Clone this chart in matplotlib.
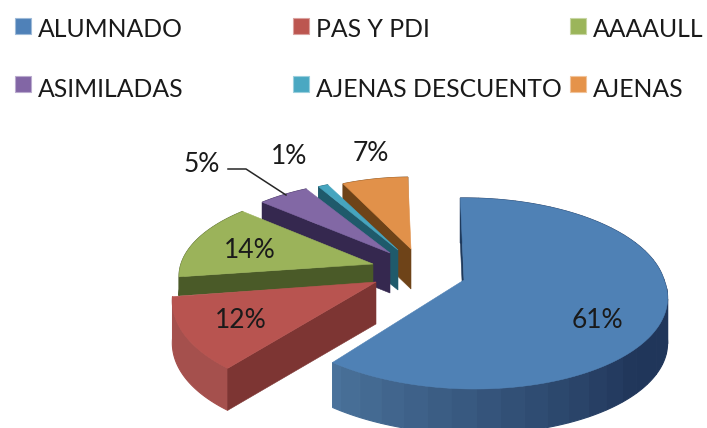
import numpy as np
import matplotlib
matplotlib.use('Agg')
import matplotlib.pyplot as plt
from matplotlib.patches import Polygon, Rectangle
from matplotlib.colors import to_rgb

# data
categories = ['ALUMNADO', 'PAS Y PDI', 'AAAAULL', 'ASIMILADAS', 'AJENAS DESCUENTO', 'AJENAS']
values = [61, 12, 14, 5, 1, 7]

# colours per slice
top_colors = ['#4f81b5', '#b85450', '#9bb35a', '#8268a5', '#46a5bf', '#e1914a']
face_colors = ['#1f3a5c', '#7d3533', '#4a5a28', '#35284f', '#1f5a6b', '#6e4318']
rim_colors = ['#20365a', '#a5504d', '#4a5a28', '#35284f', '#1f5a6b', '#6e4318']
legend_colors = ['#4f81b8', '#bc5650', '#9bb55a', '#8266a5', '#4aa8c2', '#e5934a']

# layout in pixels of the picture
apex = [(464, 280), (376, 282), (373, 264), (390, 253), (398, 250), (411, 249)]
radius_x = [200, 200, 192, 188, 178, 172]
radius_y = [93.6, 98, 86, 83, 82, 82]
near_shear = [0.1, -0.1, 0, 0, 0, 0]
depth = [45, 42, 19, 40, 40, 40]
label_pos = [(597, 320.5), (241, 320.5), (250, 251), (202, 164.5), (289, 156.5), (371, 153.5)]
legend_x = [14.5, 292.5, 569.5]
box_y = [26, 84]
text_y = [29, 89]
start_angle = -1.2
persp = 0.141

fig = plt.figure(figsize=(7.07, 4.28), dpi=100)
ax = fig.add_axes([0, 0, 1, 1])
ax.set_xlim(0, 707)
ax.set_ylim(428, 0)
ax.axis('off')
plt.rcParams['font.family'] = ['Lato', 'DejaVu Sans']


def project(i, t):
    # t in degrees, clockwise from the top of the pie
    t = np.radians(t)
    w = 1 + persp * np.cos(t)
    dy = -radius_y[i] * np.cos(t) / w
    dx = radius_x[i] * np.sin(t) / w + near_shear[i] * np.maximum(dy, 0)
    return apex[i][0] + dx, apex[i][1] + dy


def rim_color(i, t):
    if i != 0:
        return rim_colors[i]
    # the big slice gets lighter towards its left end, in bands
    c1 = np.array(to_rgb('#20365a'))
    c2 = np.array(to_rgb('#4a729b'))
    f = np.clip((t - 130) / (216 - 130), 0, 1)
    return c1 + (c2 - c1) * f


# far slices first, the big one last
angles = np.cumsum([0] + values) * 3.6 + start_angle
for i in [5, 4, 3, 2, 1, 0]:
    a0, a1 = angles[i], angles[i + 1]
    ts = np.linspace(a0, a1, max(int(a1 - a0) * 2, 6))
    xs, ys = project(i, ts)

    # outer wall, big slice in bands like the original
    band = 12 if i == 0 else len(ts)
    for k in range(0, len(ts) - 1, band):
        e = min(k + band, len(ts) - 1)
        top = list(zip(xs[k:e + 1], ys[k:e + 1]))
        bottom = list(zip(xs[k:e + 1], ys[k:e + 1] + depth[i]))
        c = rim_color(i, ts[k])
        ax.add_patch(Polygon(top + bottom[::-1], facecolor=c, edgecolor=c, lw=0.8))

    # cut face on the leading side
    ax0, ay0 = apex[i]
    pts = [(ax0, ay0), (xs[0], ys[0]), (xs[0], ys[0] + depth[i]), (ax0, ay0 + depth[i])]
    ax.add_patch(Polygon(pts, facecolor=face_colors[i], edgecolor=face_colors[i], lw=0.4))

    # top of the slice
    pts = [(ax0, ay0)] + list(zip(xs, ys))
    ax.add_patch(Polygon(pts, facecolor=top_colors[i], edgecolor=top_colors[i], lw=0.4))

# leader line for the 5% label
ax.plot([228, 246, 286], [169, 169, 195], color='#262626', lw=1.1)

for v, (x, y) in zip(values, label_pos):
    ax.text(x, y, f'{v}%', fontsize=19, color='#1a1a1a', ha='center', va='center')

# legend
for i, name in enumerate(categories):
    x = legend_x[i % 3]
    c = np.array(to_rgb(legend_colors[i]))
    edge = c + (1 - c) * 0.45
    ax.add_patch(Rectangle((x, box_y[i // 3] - 8), 16, 16, facecolor=c, edgecolor=edge, lw=0.8))
    ax.text(x + 23.5, text_y[i // 3], name, fontsize=17.8, color='#1a1a1a', ha='left', va='center')

fig.savefig('out.png', dpi=100)
